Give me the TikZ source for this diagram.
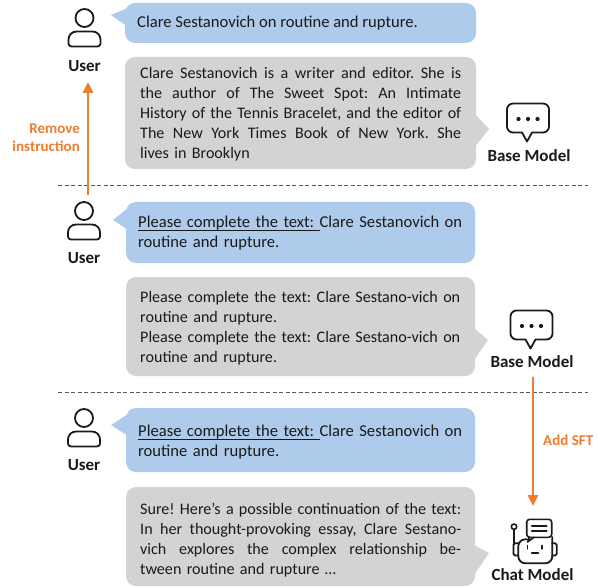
\documentclass[tikz,border=0pt]{standalone}
\usepackage{fontspec}
\setmainfont{Carlito}
\usetikzlibrary{arrows.meta}
\setlength\parindent{0pt}
\frenchspacing
\definecolor{bubblue}{HTML}{AECBEB}
\definecolor{bubgray}{HTML}{D3D3D3}
\definecolor{arrorange}{HTML}{ED7D31}
\definecolor{ink}{HTML}{1A1A1A}
\definecolor{sepgray}{HTML}{595959}
\newcommand\jl[1]{\leavevmode\hbox to\hsize{\spaceskip=\fontdimen2\font plus\fontdimen3\font minus 0.35\fontdimen2\font #1}}
\newcommand\ulw[1]{\setbox0\hbox{#1}\rlap{\vrule height -2.6pt depth 3.3pt width \wd0}\box0}
\newcommand\ulsp{\leaders\hrule height -2.6pt depth 3.3pt\hskip\fontdimen2\font plus\fontdimen3\font minus\fontdimen4\font}
\newcommand\pct{\ulw{Please}\ulsp\ulw{complete}\ulsp\ulw{the}\ulsp\ulw{text:}\ulsp}
\hbadness=10000
\hfuzz=20pt
\begin{document}
\begin{tikzpicture}[x=1pt,y=-1pt,
  msg/.style={font=\fontsize{16.6}{20}\selectfont\frenchspacing, text=ink, inner sep=0pt, anchor=west},
  gmsg/.style={font=\fontsize{16.1}{20}\selectfont\frenchspacing, text=ink, inner sep=0pt, anchor=west},
  lbl/.style={font=\fontsize{17}{20}\selectfont\bfseries, text=ink, inner sep=0pt},
  olbl/.style={font=\fontsize{15}{18}\selectfont\bfseries, text=arrorange, inner sep=0pt},
  flow/.style={draw=arrorange, line width=2.6pt, -{Triangle[width=10pt,length=11pt]}},
  sepline/.style={draw=sepgray, line width=0.9pt, dash pattern=on 4pt off 2.5pt},
  icon/.style={draw=ink, line width=1.8pt, line join=round, line cap=round},
  usericon/.pic={
    \draw[icon] (0,0) circle (9);
    \draw[icon] (-16,25.5) -- (-16,21.5) arc[start angle=180,end angle=270,radius=8]
      -- (8,13.5) arc[start angle=270,end angle=360,radius=8]
      -- (16,25.5) arc[start angle=0,end angle=90,radius=3]
      -- (-13,28.5) arc[start angle=90,end angle=180,radius=3] -- cycle;
  },
  baseicon/.pic={
    \draw[icon] (4,14.5) -- (15,14.5) arc[start angle=90,end angle=0,radius=6]
      -- (21,-8.5) arc[start angle=0,end angle=-90,radius=6]
      -- (-15,-14.5) arc[start angle=-90,end angle=-180,radius=6]
      -- (-21,8.5) arc[start angle=180,end angle=90,radius=6]
      -- (-6,14.5) -- (-1,23.5) -- cycle;
    \fill[ink] (-9.5,1) circle (2.1) (0,1) circle (2.1) (9.5,1) circle (2.1);
  }]
\useasboundingbox (0,0) rectangle (597,588);
\fill[white] (0,0) rectangle (597,588);

% separators
\coordinate (d1a) at (58,185); \coordinate (d1b) at (588,185);
\coordinate (d2a) at (58,392); \coordinate (d2b) at (588,392);
\draw[sepline] (d1a) -- (d1b);
\draw[sepline] (d2a) -- (d2b);

% ---------- section 1 ----------
\fill[bubblue, rounded corners=10pt] (125,3) rectangle (476,43);
\fill[bubblue] (128,8) -- (111,15) -- (128,27) -- cycle;
\node[msg] (t1) at (137,23) {Clare Sestanovich on routine and rupture.};

\fill[bubgray, rounded corners=10pt] (125,57) rectangle (476,169);
\fill[bubgray] (474,113) -- (489,129) -- (474,148) -- cycle;
\node[gmsg, text width=321pt] (t2) at (140,114) {%
\jl{Clare Sestanovich is a writer and editor. She is}\\
\jl{the author of The Sweet Spot: An Intimate}\\
\jl{History of the Tennis Bracelet, and the editor of}\\
\jl{The New York Times Book of New York. She}\\
lives in Brooklyn};

\pic at (84.5,18) {usericon};
\node[lbl] (u1) at (84.5,66) {User};
\pic at (528,118) {baseicon};
\node[lbl] (b1) at (529,156) {Base Model};

\coordinate (r0) at (88,195); \coordinate (r1) at (88,82);
\draw[flow] (r0) -- (r1);
\node[olbl, align=right, anchor=east] (rl) at (80,138) {Remove\\instruction};

% ---------- section 2 ----------
\fill[bubblue, rounded corners=10pt] (126,202) rectangle (475,263);
\fill[bubblue] (128,208) -- (113,220) -- (128,230) -- cycle;
\node[msg, text width=324pt] (t3) at (138,233) {%
\jl{\pct Clare Sestanovich on}\\
routine and rupture.};

\fill[bubgray, rounded corners=10pt] (126,277) rectangle (475,376);
\fill[bubgray] (474,328) -- (488,340) -- (474,360) -- cycle;
\node[gmsg, text width=320pt] (t4) at (140,328) {%
\jl{Please complete the text: Clare Sestano-vich on}\\
routine and rupture.\\
\jl{Please complete the text: Clare Sestano-vich on}\\
routine and rupture.};

\pic at (84,211) {usericon};
\node[lbl] (u2) at (84,258) {User};
\pic at (531.5,325) {baseicon};
\node[lbl] (b2) at (532,362) {Base Model};

% ---------- section 3 ----------
\fill[bubblue, rounded corners=10pt] (126,408) rectangle (475,472);
\fill[bubblue] (128,414) -- (111,425) -- (128,436) -- cycle;
\node[msg, text width=324pt] (t5) at (138,442) {%
\jl{\pct Clare Sestanovich on}\\
routine and rupture.};

\fill[bubgray, rounded corners=10pt] (126,487) rectangle (475,586);
\fill[bubgray] (474,545) -- (489,553) -- (474,575) -- cycle;
\node[gmsg, text width=321pt] (t6) at (140,540) {%
\jl{Sure! Here’s a possible continuation of the text:}\\
\jl{In her thought-provoking essay, Clare Sestano-}\\
\jl{vich explores the complex relationship be-}\\
tween routine and rupture …};

\pic at (84,418) {usericon};
\node[lbl] (u3) at (84,465) {User};

% robot (chat model) icon
\draw[icon, line width=1.6pt] (514,526.7) circle (2.7);
\draw[icon, line width=1.6pt] (514,529.4) -- (514,543.3);
\draw[icon, rounded corners=1.5pt] (518.3,543.3) -- (513.5,543.3) -- (513.5,555.5) -- (518.3,555.5);
\draw[icon, rounded corners=1.5pt] (552.3,543.3) -- (556.7,543.3) -- (556.7,555.5) -- (552.3,555.5);
\draw[icon, rounded corners=7pt] (527,539.3) -- (518.3,539.3) -- (518.3,563.3) -- (552.3,563.3) -- (552.3,537);
\filldraw[fill=white, draw=ink, line width=1.6pt, rounded corners=3pt] (526.7,519.3) rectangle (551.7,537.3);
\draw[icon, line width=1.6pt] (529.5,537.3) -- (527.5,542) -- (534,537.3);
\draw[icon, line width=1.6pt] (531.7,526) -- (546.7,526);
\draw[icon, line width=1.6pt] (531.7,530.7) -- (546.7,530.7);
\draw[icon] (527.5,545.5) -- (527.5,548.8);
\draw[icon] (542.3,545.5) -- (542.3,548.8);
\draw[icon] (531.7,553.3) -- (538.3,553.3);
\node[lbl] (c1) at (532.5,575) {Chat Model};

\coordinate (s0) at (533,377); \coordinate (s1) at (533,506);
\draw[flow] (s0) -- (s1);
\node[olbl, anchor=west] (sl) at (543,440) {Add SFT};
\end{tikzpicture}
\end{document}
